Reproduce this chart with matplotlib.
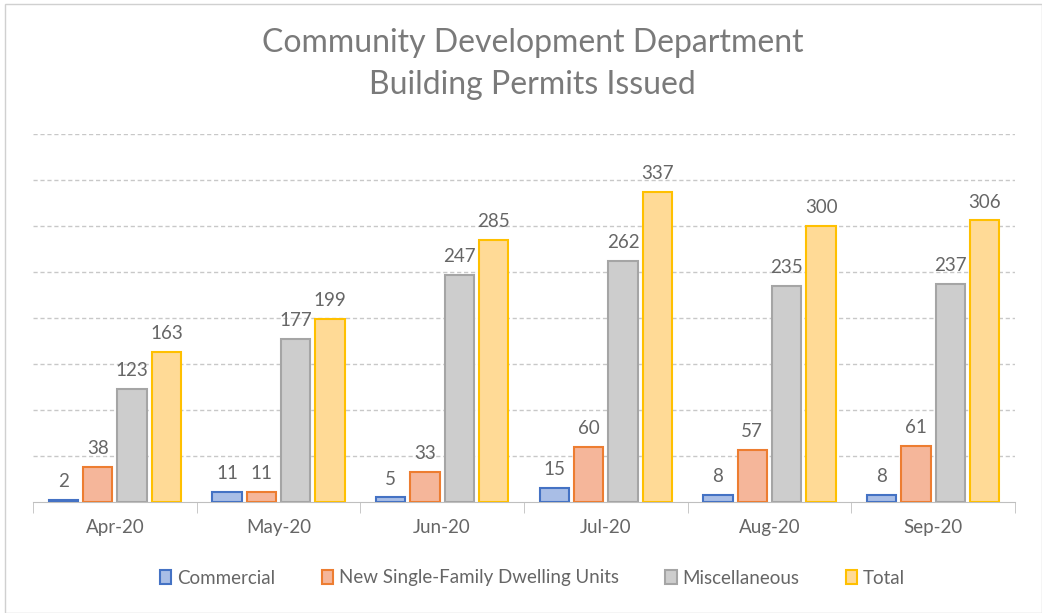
import matplotlib
matplotlib.use('Agg')
import matplotlib.pyplot as plt
import numpy as np

months = ['Apr-20', 'May-20', 'Jun-20', 'Jul-20', 'Aug-20', 'Sep-20']
commercial = [2, 11, 5, 15, 8, 8]
single_family = [38, 11, 33, 60, 57, 61]
misc = [123, 177, 247, 262, 235, 237]
total = [163, 199, 285, 337, 300, 306]

series = [
    ('Commercial', commercial, '#A9BEE6', '#4472C4'),
    ('New Single-Family Dwelling Units', single_family, '#F5B69A', '#ED7D31'),
    ('Miscellaneous', misc, '#CDCDCD', '#A5A5A5'),
    ('Total', total, '#FFDA96', '#FFC000'),
]

plt.rcParams['font.family'] = ['Lato', 'DejaVu Sans']
text_color = '#666666'

fig = plt.figure(figsize=(10.42, 6.13), dpi=100)
ax = fig.add_axes([33 / 1042, 1 - 502 / 613, (1015 - 33) / 1042, (502 - 134) / 613])

x = np.arange(len(months))
width = 0.18
step = 0.21
for i, (name, vals, fc, ec) in enumerate(series):
    off = (i - 1.5) * step
    rects = ax.bar(x + off, vals, width, color=fc, edgecolor=ec, linewidth=1.5, label=name, zorder=3)
    for r, v in zip(rects, vals):
        ax.annotate(str(v), xy=(r.get_x() + r.get_width() / 2, v), xytext=(0, 7),
                    textcoords='offset points', ha='center', va='bottom',
                    fontsize=13.5, color=text_color)

ax.set_ylim(0, 400)
ax.set_xlim(-0.5, len(months) - 0.5)
ax.set_yticks(np.arange(50, 401, 50))
ax.yaxis.grid(True, color='#C8C8C8', linestyle=(0, (3, 2)), linewidth=1, zorder=0)
ax.tick_params(axis='y', length=0, labelleft=False)
ax.set_xticks(x)
ax.set_xticklabels(months, fontsize=13.5, color=text_color)
ax.set_xticks(np.arange(-0.5, len(months)), minor=True)
ax.tick_params(axis='x', which='major', length=0, pad=12)
ax.tick_params(axis='x', which='minor', length=8, color='#BFBFBF')
for s in ['top', 'right', 'left']:
    ax.spines[s].set_visible(False)
ax.spines['bottom'].set_color('#BFBFBF')

title_color = '#7A7A7A'
fig.text(0.511, 1 - 43 / 613, 'Community Development Department', ha='center', va='center',
         fontsize=23, color=title_color)
fig.text(0.511, 1 - 85 / 613, 'Building Permits Issued', ha='center', va='center',
         fontsize=23, color=title_color)

leg = fig.legend(loc='center', bbox_to_anchor=(0.511, 1 - 578 / 613), ncol=4, frameon=False,
                 fontsize=13.5, handlelength=0.6, handleheight=0.7, handletextpad=0.3,
                 columnspacing=2.5)
for t in leg.get_texts():
    t.set_color(text_color)

fig.patches.append(plt.Rectangle((5 / 1042, 0), 1 - 5 / 1042, 1 - 4 / 613, transform=fig.transFigure,
                                 fill=False, edgecolor='#D0D0D0', linewidth=1))

fig.savefig('out.png', dpi=100)
